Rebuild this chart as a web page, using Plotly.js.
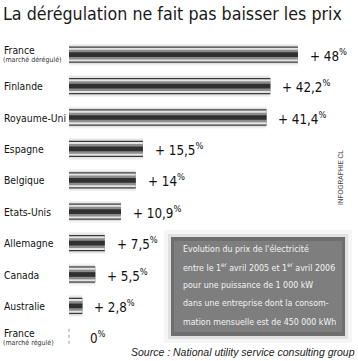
<!DOCTYPE html>
<html><head><meta charset="utf-8">
<script src="https://cdn.plot.ly/plotly-3.0.1.min.js"></script>
<style>html,body{margin:0;padding:0;background:#fff;}#chart{width:358px;height:361px;}</style>
</head><body><div id="chart"></div>
<script>
// ---- data ----
const countries = ["France", "Finlande", "Royaume-Uni", "Espagne", "Belgique", "Etats-Unis", "Allemagne", "Canada", "Australie", "France"];
const subLabels = ["(marché dérégulé)", "", "", "", "", "", "", "", "", "(marché régulé)"];
const increases = [48, 42.2, 41.4, 15.5, 14, 10.9, 7.5, 5.5, 2.8, 0];
const noteLines = [
  "Evolution du prix de l'électricité",
  "entre le 1<sup>er</sup> avril 2005 et 1<sup>er</sup> avril 2006",
  "pour une puissance de 1 000 kW",
  "dans une entreprise dont la consom-",
  "mation mensuelle est de 450 000 kWh"
];
const sourceText = "Source : National utility service consulting group";
const creditText = "INFOGRAPHIE CL";
const titleText = "La dérégulation ne fait pas baisser les prix";

// ---- layout helpers ----
const W = 358, H = 361;
const px = v => v / W;
const py = v => 1 - v / H;
const FONT = "DejaVu Sans Condensed, Liberation Sans Narrow, sans-serif";
const idx = countries.map((c, i) => i);

// metallic bar look: overlaid bars of decreasing thickness
const layers = [
  {w: 0.70, c: "rgba(0,0,0,0.05)"},
  {w: 0.60, c: "rgba(0,0,0,0.07)"},
  {w: 0.52, c: "#3c3c3c"},
  {w: 0.44, c: "#e4e4e4"},
  {w: 0.31, c: "#8c8c8c"},
  {w: 0.15, c: "#303030"}
];
const traces = layers.map(l => ({
  type: "bar", orientation: "h",
  x: increases, y: idx,
  width: l.w,
  marker: {color: l.c, line: {width: 0}},
  hoverinfo: "skip", showlegend: false
}));

const fmt = v => String(v).replace(".", ",");
const annotations = [];
countries.forEach((c, i) => {
  const hasSub = subLabels[i] !== "";
  annotations.push({
    xref: "paper", yref: "y", x: px(2), y: i, xanchor: "left", yanchor: "middle",
    yshift: hasSub ? 4.5 : 0, showarrow: false, text: c,
    font: {family: FONT, size: 10.3, color: "#111"}
  });
  if (hasSub) annotations.push({
    xref: "paper", yref: "y", x: px(1), y: i, xanchor: "left", yanchor: "middle",
    yshift: -5.5, showarrow: false, text: subLabels[i],
    font: {family: FONT, size: 7, color: "#333"}
  });
  const v = increases[i];
  annotations.push({
    xref: "x", yref: "y", x: v, y: i, xanchor: "left", yanchor: "middle",
    xshift: v > 0 ? 10 : 19, showarrow: false,
    text: (v > 0 ? "+ " : "") + fmt(v) + "<sup>%</sup>",
    font: {family: FONT, size: 13.3, color: "#111"}
  });
});
const noteY = [249, 267, 285, 303, 322];
noteLines.forEach((t, k) => annotations.push({
  xref: "paper", yref: "paper", x: px(181), y: py(noteY[k]), xanchor: "left", yanchor: "middle",
  showarrow: false, text: t, font: {family: FONT, size: 8.8, color: "#f4f4f4"}
}));
annotations.push({
  xref: "paper", yref: "paper", x: px(357), y: py(352), xanchor: "right", yanchor: "middle",
  showarrow: false, text: "<i>" + sourceText + "</i>",
  font: {family: "Liberation Sans, Arial, sans-serif", size: 10.5, color: "#222"}
});
annotations.push({
  xref: "paper", yref: "paper", x: px(341), y: py(178), xanchor: "center", yanchor: "middle",
  showarrow: false, textangle: -90, text: creditText,
  font: {family: "Liberation Sans, Arial, sans-serif", size: 6.5, color: "#444"}
});

const shapes = [
  {type: "rect", xref: "paper", yref: "paper", x0: px(164), x1: px(352), y0: py(343), y1: py(230), line: {width: 0}, fillcolor: "rgba(0,0,0,0.04)", layer: "below"},
  {type: "rect", xref: "paper", yref: "paper", x0: px(168), x1: px(348), y0: py(339), y1: py(234), line: {width: 0}, fillcolor: "rgba(0,0,0,0.08)", layer: "below"},
  {type: "rect", xref: "paper", yref: "paper", x0: px(171), x1: px(345), y0: py(336), y1: py(237), line: {width: 0}, fillcolor: "#6e6e6e", layer: "below"},
  {type: "rect", xref: "paper", yref: "paper", x0: px(174), x1: px(342), y0: py(332), y1: py(241), line: {width: 0}, fillcolor: "#7e7e7e", layer: "below"},
  {type: "line", xref: "x", yref: "y", x0: 0, x1: 0, y0: idx[9] - 0.27, y1: idx[9] + 0.27, line: {color: "#999", width: 1, dash: "dot"}}
];

const layout = {
  width: W, height: H,
  margin: {l: 0, r: 0, t: 0, b: 0, pad: 0},
  paper_bgcolor: "#fff", plot_bgcolor: "rgba(0,0,0,0)",
  barmode: "overlay",
  title: {text: titleText, x: px(3), xanchor: "left", xref: "paper", y: py(14), yanchor: "middle", yref: "paper",
          font: {family: FONT, size: 17.7, color: "#1a1a1a"}},
  xaxis: {range: [-69 / 4.77, 289 / 4.77], visible: false, fixedrange: true},
  yaxis: {range: [(361 - 54.7) / 31.4, -54.7 / 31.4], visible: false, fixedrange: true},
  annotations: annotations, shapes: shapes, showlegend: false
};
Plotly.newPlot("chart", traces, layout, {displayModeBar: false, staticPlot: true});
</script></body></html>
